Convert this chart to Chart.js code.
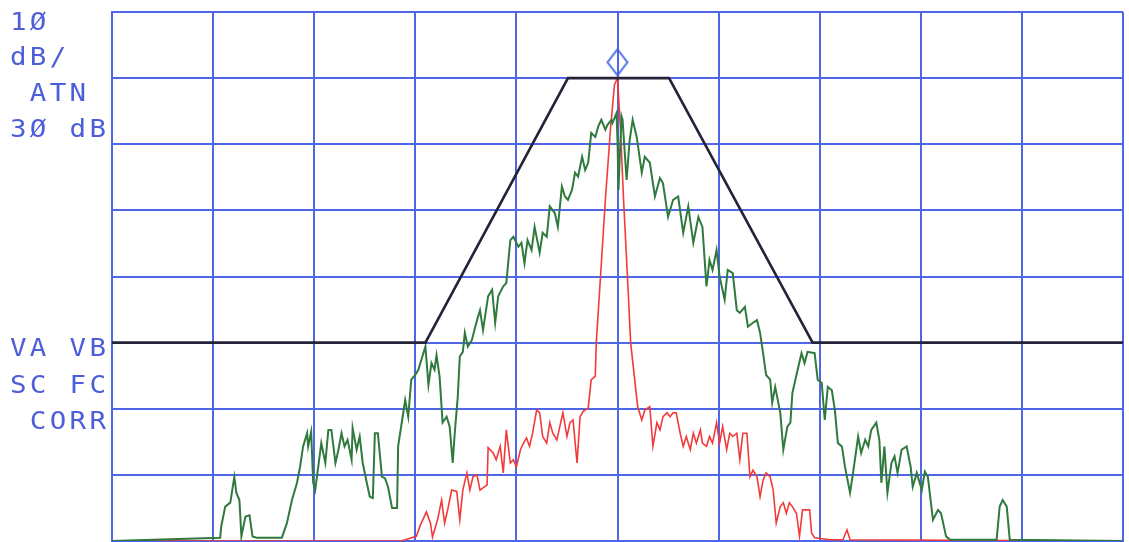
<!DOCTYPE html>
<html>
<head>
<meta charset="utf-8">
<script src="https://cdn.jsdelivr.net/npm/chart.js@4/dist/chart.umd.min.js"></script>
<style>
  html, body { margin: 0; padding: 0; background: #ffffff; }
  #wrap { width: 1129px; height: 542px; }
</style>
</head>
<body>
<div id="wrap"><canvas id="c" width="1129" height="542"></canvas></div>
<script>
// Sweep position (0..1000 = 10 divisions) and level in dB (top = 0, 10 dB/div)
const maskX = [0, 310, 451, 551, 693, 1000];
const maskDb = [-50, -50, -10, -10, -50, -50];

const redX = [0, 285, 290, 301, 305, 311, 315, 317, 322, 326, 329, 332, 336, 341, 344, 347, 351, 354, 357, 361, 364, 371, 372, 377, 380, 384, 387, 390, 394, 397, 400, 404, 407, 410, 413, 416, 420, 423, 426, 430, 433, 436, 440, 446, 450, 453, 456, 460, 463, 466, 471, 474, 478, 479, 483, 488, 493, 497, 500, 503, 506, 510, 513, 517, 520, 524, 527, 532, 535, 539, 542, 545, 549, 552, 555, 558, 562, 565, 568, 572, 575, 578, 582, 584, 588, 591, 594, 598, 601, 604, 608, 611, 614, 618, 621, 624, 628, 631, 634, 638, 641, 644, 647, 651, 654, 657, 661, 664, 667, 670, 673, 677, 680, 683, 687, 690, 692, 695, 710, 723, 727, 730, 1000];
const redDb = [-80, -80, -79.8, -79.3, -77.6, -75.6, -77.3, -79.4, -76.8, -73.8, -77.3, -75.3, -72.3, -72.5, -76.8, -72.3, -69.7, -72.3, -70.3, -70.0, -72.3, -71.5, -65.9, -66.7, -67.7, -65.7, -69.7, -63.2, -68.2, -67.7, -68.8, -66.2, -65.2, -64.4, -65.7, -63.7, -60.2, -60.6, -64.2, -65.2, -62.1, -63.7, -64.7, -60.6, -64.2, -62.1, -61.7, -68.2, -61.2, -60.4, -59.9, -55.6, -55.1, -50.0, -40.5, -28.4, -17.8, -11.0, -10.0, -17.8, -28.4, -40.5, -50.0, -55.6, -59.7, -61.7, -60.2, -59.7, -65.7, -62.1, -63.2, -61.2, -60.6, -61.2, -60.6, -60.6, -63.7, -65.7, -64.2, -66.2, -63.7, -65.2, -63.2, -65.2, -65.7, -64.2, -65.2, -62.1, -65.2, -62.7, -66.2, -63.7, -64.2, -63.7, -67.7, -63.7, -63.7, -70.3, -69.3, -70.3, -73.3, -70.8, -69.7, -70.3, -72.3, -77.3, -74.8, -74.2, -75.8, -74.2, -74.8, -75.8, -79.3, -75.3, -75.3, -75.3, -78.8, -79.5, -79.8, -79.8, -78.3, -79.8, -80];

const greenX = [0, 107, 108, 112, 117, 121, 123, 126, 128, 132, 136, 139, 143, 168, 173, 178, 183, 186, 189, 193, 194, 197, 199, 201, 204, 207, 211, 214, 217, 221, 224, 227, 230, 233, 237, 238, 242, 245, 248, 252, 255, 258, 260, 263, 267, 270, 273, 277, 282, 283, 287, 290, 293, 296, 300, 303, 306, 310, 313, 316, 319, 321, 324, 327, 331, 334, 337, 339, 342, 344, 347, 349, 352, 356, 359, 362, 364, 367, 372, 376, 379, 382, 387, 390, 394, 397, 402, 405, 408, 411, 415, 418, 423, 426, 430, 433, 438, 441, 445, 448, 451, 455, 458, 461, 465, 468, 471, 474, 478, 481, 484, 488, 490, 494, 495, 499, 500, 501, 502, 504, 505, 509, 512, 515, 519, 524, 527, 532, 537, 542, 545, 550, 555, 560, 565, 570, 575, 580, 584, 588, 591, 594, 598, 601, 606, 609, 614, 618, 621, 626, 629, 634, 638, 641, 644, 647, 651, 653, 656, 661, 664, 668, 671, 673, 677, 682, 685, 688, 695, 698, 702, 705, 708, 712, 715, 718, 722, 725, 730, 733, 738, 741, 745, 748, 751, 756, 759, 761, 764, 767, 771, 774, 777, 781, 786, 790, 792, 796, 801, 804, 807, 812, 817, 820, 825, 829, 875, 878, 881, 885, 888, 1000];
const greenDb = [-80, -79.5, -77.8, -74.8, -74.2, -70.3, -72.7, -73.8, -79.3, -76.3, -76.1, -79.3, -79.5, -79.5, -77.3, -73.8, -71.2, -68.8, -65.7, -63.7, -65.7, -63.5, -71.2, -72.3, -68.8, -65.2, -68.2, -63.2, -63.2, -68.2, -66.2, -63.7, -65.7, -64.7, -67.7, -62.9, -66.2, -64.2, -68.2, -71.2, -73.3, -73.5, -63.7, -63.7, -70.3, -70.5, -71.8, -75.0, -75.0, -65.7, -61.7, -58.7, -61.2, -55.6, -54.9, -54.1, -52.6, -50.6, -56.4, -53.1, -54.1, -51.9, -55.1, -62.1, -61.2, -62.7, -68.2, -63.7, -58.2, -52.1, -51.4, -48.5, -50.6, -49.6, -47.8, -46.1, -45.1, -48.1, -43.0, -42.0, -47.0, -43.0, -41.5, -41.0, -34.5, -34.0, -35.5, -34.9, -38.0, -34.5, -36.0, -32.5, -36.4, -33.4, -34.0, -29.4, -30.4, -32.5, -26.4, -27.9, -28.4, -26.9, -24.3, -24.9, -21.9, -23.9, -22.8, -18.3, -18.9, -17.3, -16.3, -17.8, -17.1, -16.3, -16.8, -15.3, -19.4, -26.9, -22.8, -15.8, -16.3, -25.4, -19.4, -16.3, -18.9, -24.3, -21.9, -22.8, -27.9, -25.1, -25.9, -31.0, -28.4, -27.9, -33.4, -29.4, -34.9, -31.0, -32.5, -41.5, -37.5, -39.0, -36.0, -40.0, -43.5, -39.0, -39.5, -45.1, -45.5, -44.6, -47.6, -47.0, -46.6, -48.5, -51.6, -54.9, -55.6, -59.1, -56.7, -60.6, -66.2, -62.7, -62.1, -57.6, -54.9, -51.6, -53.1, -51.4, -51.6, -55.6, -56.1, -61.7, -56.7, -57.2, -60.2, -65.2, -65.7, -68.8, -72.7, -69.7, -64.2, -66.7, -64.7, -65.7, -63.2, -62.1, -64.7, -71.2, -65.7, -72.7, -68.2, -67.2, -69.7, -66.2, -65.7, -68.8, -71.8, -69.7, -72.3, -69.5, -70.3, -76.8, -75.3, -75.8, -79.3, -79.8, -79.8, -74.8, -73.8, -74.8, -79.8, -80];

const markerX = [500];
const markerDb = [-7.6];

const sideText = ['1Ø', 'dB/', ' ATN', '3Ø dB', 'VA VB', 'SC FC', ' CORR'];
const sideTextY = [30, 65, 101, 137, 356, 393, 429];

function pairs(xs, ys) { return xs.map((x, i) => ({ x: x, y: ys[i] })); }

// diamond marker image
const dm = document.createElement('canvas');
dm.width = 24; dm.height = 30;
(function () {
  const g = dm.getContext('2d');
  g.strokeStyle = '#3f63e0';
  g.lineWidth = 1.8;
  g.beginPath();
  g.moveTo(12, 2); g.lineTo(22, 15); g.lineTo(12, 28); g.lineTo(2, 15); g.closePath();
  g.stroke();
})();

const textPlugin = {
  id: 'sideText',
  afterDraw(chart) {
    const ctx = chart.ctx;
    ctx.save();
    ctx.fillStyle = '#4d5fd8';
    ctx.font = '25px "DejaVu Sans Mono", monospace';
    ctx.textBaseline = 'alphabetic';
    ctx.textAlign = 'left';
    try { ctx.letterSpacing = '3px'; } catch (e) {}
    sideText.forEach((t, i) => {
      ctx.save();
      ctx.translate(10, sideTextY[i]);
      ctx.scale(1.1, 1);
      ctx.fillText(t, 0, 0);
      ctx.restore();
    });
    ctx.restore();
  }
};

const gridBlue = '#4f66e8';

new Chart(document.getElementById('c'), {
  type: 'line',
  data: {
    datasets: [
      { data: pairs(redX, redDb), borderColor: '#f23a3a', borderWidth: 1.6, pointRadius: 0, tension: 0, order: 4 },
      { data: pairs(greenX, greenDb), borderColor: '#2f7a3c', borderWidth: 2, pointRadius: 0, tension: 0, order: 3 },
      { data: pairs(maskX, maskDb), borderColor: '#24233a', borderWidth: 2.6, pointRadius: 0, tension: 0, order: 2 },
      { data: pairs(markerX, markerDb), showLine: false, pointStyle: dm, pointRadius: 12, order: 1 }
    ]
  },
  options: {
    responsive: false,
    animation: false,
    devicePixelRatio: 1,
    layout: { autoPadding: false, padding: { left: 112, top: 12, right: 6, bottom: 1 } },
    plugins: { legend: { display: false }, tooltip: { enabled: false } },
    scales: {
      x: {
        type: 'linear', min: 0, max: 1000,
        ticks: { display: false, stepSize: 100 },
        grid: { color: gridBlue, lineWidth: 2, drawTicks: false, tickLength: 0 },
        border: { display: true, color: gridBlue, width: 2 }
      },
      y: {
        type: 'linear', min: -80, max: 0,
        ticks: { display: false, stepSize: 10 },
        grid: { color: gridBlue, lineWidth: 2, drawTicks: false, tickLength: 0 },
        border: { display: true, color: gridBlue, width: 2 }
      }
    }
  },
  plugins: [textPlugin]
});
</script>
</body>
</html>
